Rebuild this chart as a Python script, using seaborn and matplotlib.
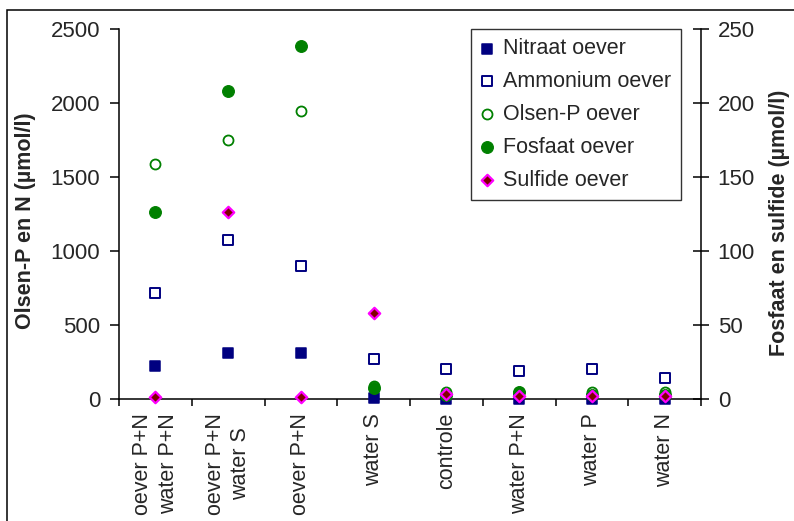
import numpy as np
import pandas as pd
import matplotlib
matplotlib.use("Agg")
import matplotlib.pyplot as plt
import matplotlib.patches as mpatches
import seaborn as sns

# Data
categories = [
    "oever P+N\nwater P+N", "oever P+N\nwater S", "oever P+N", "water S",
    "controle", "water P+N", "water P", "water N"
]
nitraat = [225, 308, 308, 5, 3, 3, 3, 3]            # left axis
ammonium = [712, 1076, 898, 267, 200, 189, 200, 144]  # left axis
olsen_p = [1588, 1750, 1941, 90, 47, 45, 45, 45]      # left axis
fosfaat = [126, 207.5, 238, 7.4, 3, 4.7, 3, 2.5]      # right axis
sulfide = [1.5, 126, 1.5, 58, 3.4, 2, 2, 2]           # right axis

sns.set_theme(style="white")
plt.rcParams["font.family"] = ["Liberation Sans", "DejaVu Sans"]
FS = 15.5

df = pd.DataFrame({
    "pos": np.arange(len(categories)),
    "nitraat": nitraat, "ammonium": ammonium, "olsen_p": olsen_p,
    "fosfaat": fosfaat, "sulfide": sulfide,
})

fig = plt.figure(figsize=(7.94, 5.21), dpi=100)
ax = fig.add_axes([119 / 794, 122 / 521, 582 / 794, 370.5 / 521])
ax2 = ax.twinx()

navy = "#000080"
green = "#008000"

# Left axis series
sns.scatterplot(data=df, x="pos", y="nitraat", ax=ax, marker="s", s=50,
                color=navy, edgecolor=navy, linewidth=1.1,
                label="Nitraat oever", clip_on=False, zorder=3)
sns.scatterplot(data=df, x="pos", y="ammonium", ax=ax, marker="s", s=50,
                facecolor="white", edgecolor=navy, linewidth=1.4,
                label="Ammonium oever", clip_on=False, zorder=3)
sns.scatterplot(data=df, x="pos", y="olsen_p", ax=ax, marker="o", s=52,
                facecolor="white", edgecolor=green, linewidth=1.3,
                label="Olsen-P oever", clip_on=False, zorder=3)

# Right axis series
sns.scatterplot(data=df, x="pos", y="fosfaat", ax=ax2, marker="o", s=72,
                color=green, edgecolor=green, linewidth=0.8,
                label="Fosfaat oever", clip_on=False, zorder=3)
sns.scatterplot(data=df, x="pos", y="sulfide", ax=ax2, marker="D", s=34,
                color="#800000", edgecolor="#FF00FF", linewidth=1.6,
                label="Sulfide oever", clip_on=False, zorder=4)

# Axes limits
ax.set_xlim(-0.5, len(categories) - 0.5)
ax.set_ylim(0, 2500)
ax2.set_ylim(0, 250)
ax.set_yticks(np.arange(0, 2501, 500))
ax2.set_yticks(np.arange(0, 251, 50))

# X ticks: marks at category boundaries, labels at centres
ax.set_xticks(np.arange(len(categories) + 1) - 0.5)
ax.set_xticklabels([])
ax.set_xticks(np.arange(len(categories)), minor=True)
ax.set_xticklabels(categories, minor=True, rotation=90, fontsize=FS,
                   ha="center", va="top", multialignment="center",
                   linespacing=1.3)
ax.tick_params(axis="x", which="major", direction="out", length=5,
               width=1.1, color="black", bottom=True)
ax.tick_params(axis="x", which="minor", length=0, pad=10, bottom=True)
ax.set_xlabel("")

ax.tick_params(axis="y", direction="out", length=6.5, width=1.1,
               color="black", pad=7, labelsize=16, left=True)
ax2.tick_params(axis="y", direction="inout", length=11, width=1.1,
                color="black", pad=6.5, labelsize=16, right=True)

# Spines
for side in ["top", "right"]:
    ax.spines[side].set_visible(False)
for side in ["top", "left", "bottom"]:
    ax2.spines[side].set_visible(False)
for sp in [ax.spines["left"], ax.spines["bottom"], ax2.spines["right"]]:
    sp.set_color("black")
    sp.set_linewidth(1.1)

# Axis titles
ax.set_ylabel("Olsen-P en N (µmol/l)", fontsize=FS, fontweight="bold")
ax.yaxis.label.set_va("center")
ax.yaxis.set_label_coords(-0.1615, 0.48)
ax2.set_ylabel("Fosfaat en sulfide (µmol/l)", fontsize=FS, fontweight="bold",
               rotation=90)
ax2.yaxis.label.set_va("center")
ax2.yaxis.set_label_coords(1.1357, 0.476)

# Legend combining both axes
h1, l1 = ax.get_legend_handles_labels()
h2, l2 = ax2.get_legend_handles_labels()
ax.get_legend().remove()
ax2.get_legend().remove()
leg = ax2.legend(h1 + h2, l1 + l2, loc="upper left",
                 bbox_to_anchor=(0.605, 1.0), borderaxespad=0,
                 fontsize=FS, frameon=True, fancybox=False,
                 handlelength=0.6, handletextpad=0.45, labelspacing=0.55,
                 borderpad=0.45)
leg.get_frame().set_edgecolor("black")
leg.get_frame().set_linewidth(1.0)

# Outer chart frame (cropped on the right and bottom)
fig.patches.append(mpatches.Rectangle(
    (7 / 794, -0.2), 2, 511 / 521 + 0.2, transform=fig.transFigure,
    fill=False, edgecolor="black", linewidth=1.1, zorder=0))

fig.savefig("out.png", dpi=100)
